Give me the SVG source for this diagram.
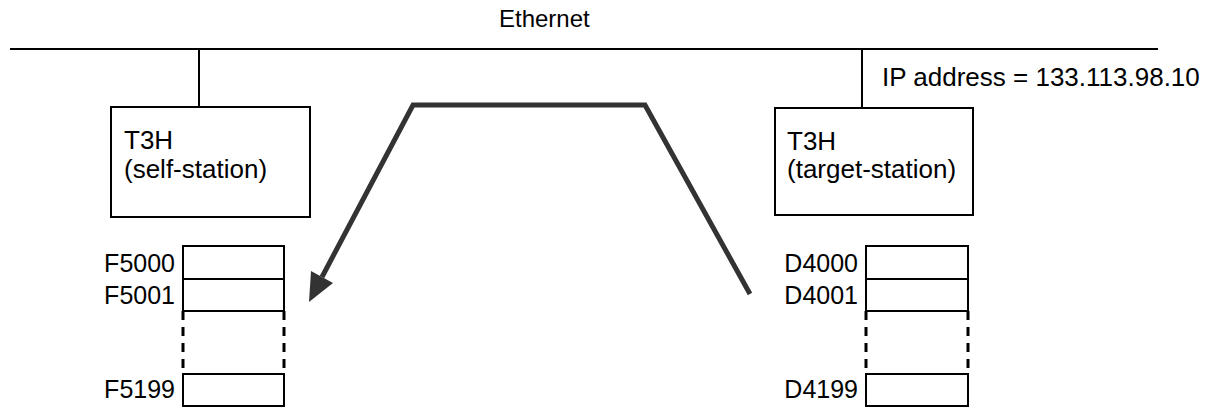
<svg xmlns="http://www.w3.org/2000/svg" width="1217" height="407" viewBox="0 0 1217 407">
  <style>
    text { font-family: "Liberation Sans", Arial, sans-serif; fill: #000; }
    .lbl { font-size: 24px; }
    .big { font-size: 26px; }
    .reg { font-size: 25px; }
    .box { fill: #fff; stroke: #000; stroke-width: 2; }
    .wire { stroke: #000; stroke-width: 2; fill: none; }
    .gap { stroke: #000; stroke-width: 3; stroke-dasharray: 9 7; fill: none; }
    .flow { stroke: #333; stroke-width: 5; fill: none; stroke-linejoin: miter; }
  </style>

  <!-- network bus -->
  <g id="ethernet">
    <line class="wire" x1="10" y1="49" x2="1158" y2="49" stroke-width="2.5"/>
    <text class="lbl" x="499" y="27">Ethernet</text>
  </g>

  <!-- local station -->
  <g id="self-station">
    <line class="wire" x1="199" y1="49" x2="199" y2="107"/>
    <rect class="box" x="111" y="107" width="199" height="110"/>
    <text class="big" x="124" y="149">T3H</text>
    <text class="big" x="124" y="178">(self-station)</text>
  </g>

  <!-- remote station -->
  <g id="target-station">
    <line class="wire" x1="862" y1="49" x2="862" y2="108"/>
    <rect class="box" x="775" y="108" width="198" height="107"/>
    <text class="big" x="787" y="150">T3H</text>
    <text class="big" x="787" y="178">(target-station)</text>
    <text class="big" x="882" y="86">IP address = 133.113.98.10</text>
  </g>

  <!-- local register block -->
  <g id="self-registers">
    <rect class="box" x="183" y="246" width="101" height="33"/>
    <rect class="box" x="183" y="279" width="101" height="32"/>
    <line class="gap" x1="183" y1="311" x2="183" y2="370"/>
    <line class="gap" x1="284" y1="311" x2="284" y2="370"/>
    <rect class="box" x="183" y="374" width="101" height="32"/>
    <text class="reg" x="175" y="272" text-anchor="end">F5000</text>
    <text class="reg" x="175" y="304" text-anchor="end">F5001</text>
    <text class="reg" x="175" y="398" text-anchor="end">F5199</text>
  </g>

  <!-- remote register block -->
  <g id="target-registers">
    <rect class="box" x="866" y="246" width="102" height="33"/>
    <rect class="box" x="866" y="279" width="102" height="32"/>
    <line class="gap" x1="866" y1="311" x2="866" y2="370"/>
    <line class="gap" x1="968" y1="311" x2="968" y2="370"/>
    <rect class="box" x="866" y="374" width="102" height="32"/>
    <text class="reg" x="858" y="272" text-anchor="end">D4000</text>
    <text class="reg" x="858" y="304" text-anchor="end">D4001</text>
    <text class="reg" x="858" y="398" text-anchor="end">D4199</text>
  </g>

  <!-- data transfer path -->
  <g id="connectors">
    <polyline class="flow" points="750,294 645,105 413,105 322,277"/>
    <polygon fill="#333" points="309,302 311,271 333,283"/>
  </g>
</svg>
